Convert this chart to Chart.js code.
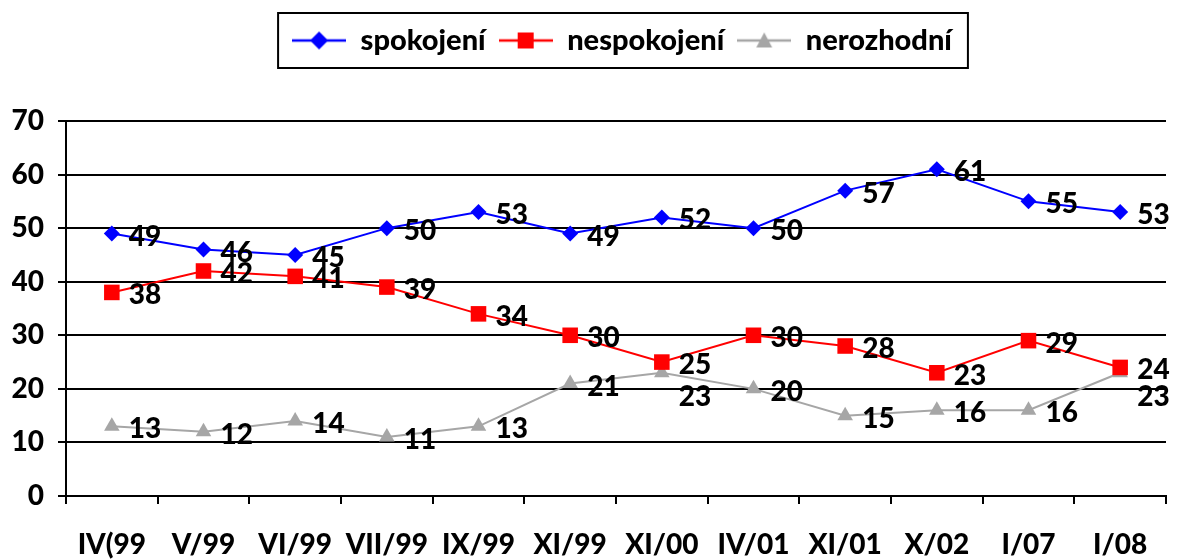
<!DOCTYPE html>
<html>
<head>
<meta charset="utf-8">
<script src="https://cdn.jsdelivr.net/npm/chart.js@4.4.1/dist/chart.umd.min.js"></script>
<style>
html,body{margin:0;padding:0;background:#fff;}
#wrap{width:1177px;height:559px;position:relative;}
</style>
</head>
<body>
<div id="wrap"><canvas id="c" width="1177" height="559"></canvas></div>
<script>
const categories = ['IV(99','V/99','VI/99','VII/99','IX/99','XI/99','XI/00','IV/01','XI/01','X/02','I/07','I/08'];
const spokojeni = [49,46,45,50,53,49,52,50,57,61,55,53];
const nespokojeni = [38,42,41,39,34,30,25,30,28,23,29,24];
const nerozhodni = [13,12,14,11,13,21,23,20,15,16,16,23];
const yTicks = [0,10,20,30,40,50,60,70];

const FONT = 'Lato, "Open Sans", sans-serif';
const colors = ['#0000FF', '#FF0000', '#A6A6A6'];
const styles = ['rectRot', 'rect', 'triangle'];
const radii = [8, 11, 9];
// labels placed below the point (dataset index -> point indices)
const labelBelow = {2: [6, 11]};
const LEGEND_SHIFT = 31;

function legendIcon(i) {
  const cv = document.createElement('canvas');
  cv.width = 54; cv.height = 22;
  const g = cv.getContext('2d');
  g.strokeStyle = colors[i]; g.lineWidth = 2.5;
  g.beginPath(); g.moveTo(0, 11); g.lineTo(54, 11); g.stroke();
  g.fillStyle = colors[i];
  g.beginPath();
  if (i === 0) { g.moveTo(27, 2); g.lineTo(36, 11); g.lineTo(27, 20); g.lineTo(18, 11); }
  else if (i === 1) { g.rect(19, 3, 16, 16); }
  else { g.moveTo(27, 3); g.lineTo(35, 18); g.lineTo(19, 18); }
  g.closePath(); g.fill();
  return cv;
}
const icons = [0,1,2].map(legendIcon);

const valueLabels = {
  id: 'valueLabels',
  afterDatasetsDraw(chart) {
    const ctx = chart.ctx;
    ctx.save();
    ctx.font = '900 28px ' + FONT;
    ctx.fillStyle = '#000';
    ctx.textAlign = 'left';
    ctx.textBaseline = 'middle';
    chart.data.datasets.forEach((ds, di) => {
      const meta = chart.getDatasetMeta(di);
      meta.data.forEach((pt, pi) => {
        const below = (labelBelow[di] || []).includes(pi);
        const dx = 17;
        const dy = below ? 24 : 3;
        ctx.fillText(String(ds.data[pi]), pt.x + dx, pt.y + dy);
      });
    });
    ctx.restore();
  }
};

const legendBox = {
  id: 'legendBox',
  afterInit(chart) {
    const lg = chart.legend;
    if (lg && !lg._patched) {
      const orig = lg.fit;
      lg.fit = function() { orig.call(this); this.height += 56; };
      const origDraw = lg.draw;
      lg.draw = function() {
        const ctx = this.ctx;
        ctx.save();
        ctx.translate(LEGEND_SHIFT, 0);
        origDraw.apply(this, arguments);
        ctx.restore();
      };
      lg._patched = true;
    }
  },
  afterDraw(chart) {
    const lg = chart.legend;
    if (!lg || !lg.legendHitBoxes || !lg.legendHitBoxes.length) return;
    const hb = lg.legendHitBoxes;
    let l = Infinity, r = -Infinity;
    hb.forEach(b => { l = Math.min(l, b.left); r = Math.max(r, b.left + b.width); });
    const ctx = chart.ctx;
    ctx.save();
    ctx.strokeStyle = '#000';
    ctx.lineWidth = 2;
    ctx.strokeRect(l - 14 + LEGEND_SHIFT, 13, (r - l) + 30, 55);
    ctx.restore();
  }
};

const datasets = [
  {label: 'spokojení', data: spokojeni},
  {label: 'nespokojení', data: nespokojeni},
  {label: 'nerozhodní', data: nerozhodni}
].map((d, i) => Object.assign(d, {
  borderColor: colors[i],
  backgroundColor: colors[i],
  borderWidth: 2,
  pointStyle: styles[i],
  pointRadius: radii[i],
  pointHoverRadius: radii[i],
  pointBackgroundColor: colors[i],
  pointBorderColor: colors[i],
  pointBorderWidth: 0,
  tension: 0
}));

new Chart(document.getElementById('c'), {
  type: 'line',
  data: {labels: categories, datasets},
  plugins: [valueLabels, legendBox],
  options: {
    responsive: false,
    animation: false,
    events: [],
    layout: {padding: {top: 13, left: 12, right: 7, bottom: 0}},
    plugins: {
      tooltip: {enabled: false},
      legend: {
        display: true,
        position: 'top',
        labels: {
          color: '#000',
          font: {family: FONT, size: 29, weight: '900'},
          padding: 13,
          usePointStyle: true,
          pointStyleWidth: 54,
          boxHeight: 22,
          generateLabels(chart) {
            const items = Chart.defaults.plugins.legend.labels.generateLabels(chart);
            items.forEach((it, i) => { it.pointStyle = icons[i]; });
            return items;
          }
        }
      }
    },
    scales: {
      x: {
        type: 'category',
        offset: true,
        afterFit(scale) { scale.height = 63; },
        grid: {display: true, offset: true, drawOnChartArea: false, drawTicks: true, tickLength: 8, tickColor: '#000', lineWidth: 2},
        border: {display: true, color: '#000', width: 2},
        ticks: {color: '#000', font: {family: FONT, size: 28, weight: '900'}, padding: 24, maxRotation: 0, autoSkip: false}
      },
      y: {
        min: 0, max: 70,
        afterBuildTicks(scale) { scale.ticks = yTicks.map(v => ({value: v})); },
        afterFit(scale) { scale.width = 54; },
        grid: {color: '#000', lineWidth: 2, drawTicks: true, tickLength: 8, tickColor: '#000'},
        border: {display: true, color: '#000', width: 2},
        ticks: {color: '#000', font: {family: FONT, size: 28, weight: '900'}, padding: 14}
      }
    }
  }
});
</script>
</body>
</html>
